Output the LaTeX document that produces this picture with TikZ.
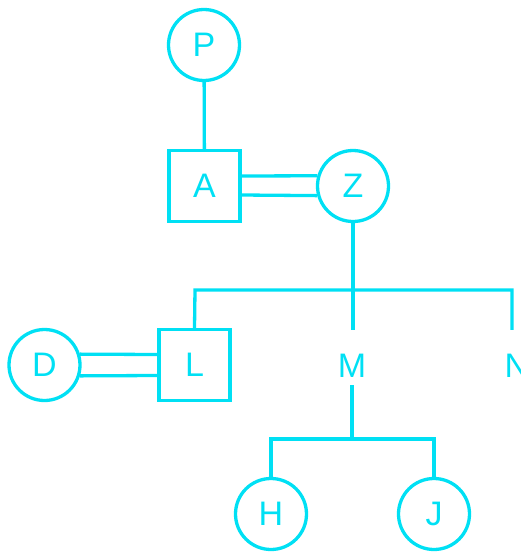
\documentclass[tikz,border=0pt]{standalone}
\usepackage{fontspec}
\setmainfont{Liberation Sans}
\definecolor{cy}{RGB}{0,224,244}
\begin{document}
\begin{tikzpicture}[x=1pt,y=-1pt,
  every node/.style={text=cy,font=\fontsize{34}{40}\selectfont},
  circ/.style={draw=cy,line width=3.3pt,circle,minimum size=71pt,inner sep=0pt},
  sq/.style={draw=cy,line width=3.3pt,rectangle,minimum size=71pt,inner sep=0pt},
  plain/.style={inner sep=0pt,text height=47pt,text depth=8pt,anchor=base},
  conn/.style={draw=cy,line width=3.3pt}]
\useasboundingbox (0,0) rectangle (521,552);
\node[circ] (P) at (204,45) {P};
\node[sq] (A) at (204.5,186) {A};
\node[circ] (Z) at (353,186) {Z};
\node[sq] (L) at (194.5,365) {L};
\node[circ] (D) at (44.5,365) {D};
\node[plain] (M) at (352,377) {M};
\node[plain] (N) at (517,377) {N};
\node[circ] (H) at (271,514) {H};
\node[circ] (J) at (434,514) {J};
\coordinate (bl) at (195,290);
\coordinate (br) at (512,290);
\coordinate (hb) at (352,439);
\draw[conn] (P) -- (A);
\draw[conn] ([yshift=10pt]A.east) -- (Z.164);
\draw[conn] ([yshift=-9pt]A.east) -- (Z.195);
\draw[conn] (Z.south) -- (Z.south |- M.north);
\draw[conn] (L.north) -- (bl) -- (br) -- (br |- N.north);
\draw[conn] (D.17) -- ([yshift=10.5pt]L.west);
\draw[conn] (D.-17) -- ([yshift=-10.5pt]L.west);
\draw[conn] (M.south) -- (hb);
\draw[conn] (H.north) |- (hb) -| (J.north);
\end{tikzpicture}
\end{document}
